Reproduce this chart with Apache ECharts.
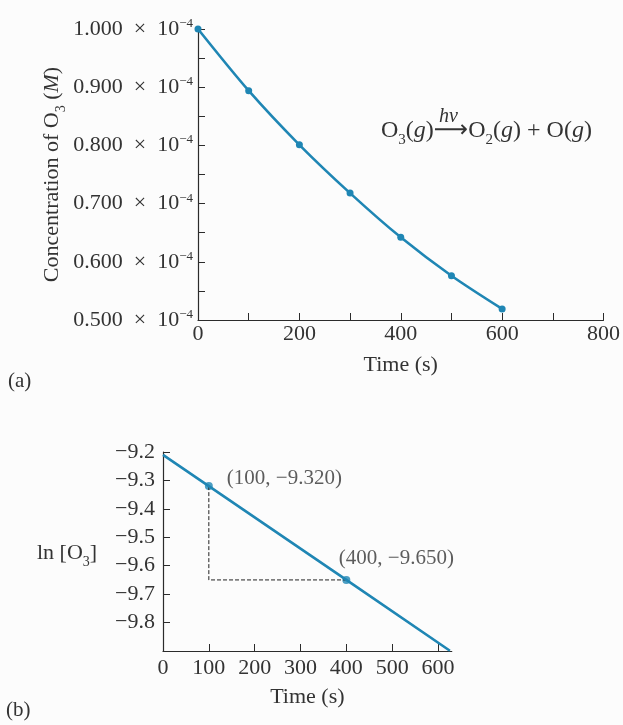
<!DOCTYPE html>
<html>
<head>
<meta charset="utf-8">
<script src="https://cdn.jsdelivr.net/npm/echarts@6/dist/echarts.min.js"></script>
<style>
  html, body { margin: 0; padding: 0; background: #fcfcfc; }
  #chart { width: 623px; height: 725px; }
</style>
</head>
<body>
<div id="chart"></div>
<script>
// ---------- data ----------
// (a) concentration of O3, in units of 10^-4 M
const timeA = [0, 100, 200, 300, 400, 500, 600];
const concA = [1.000, 0.894, 0.801, 0.718, 0.642, 0.576, 0.519];
// (b) ln[O3] vs time
const timeB = [0, 100, 400, 626];
const lnB = [-9.210, -9.320, -9.650, -9.899];
// highlighted points on (b)
const markTime = [100, 400];
const markLn = [-9.320, -9.650];
const markText = ['(100, \u22129.320)', '(400, \u22129.650)'];
// tick values
const ticksBx = [0, 100, 200, 300, 400, 500, 600];

const FONT = '"Liberation Serif", "DejaVu Serif", serif';
const TXT = '#333333';
const LINE = '#1f86b4';

const chart = echarts.init(document.getElementById('chart'), null, { renderer: 'canvas' });

function subRich(size, color) {
  return {
    m: { color: color, fill: color, fontFamily: FONT, fontSize: size, lineHeight: size + 4, verticalAlign: 'top' },
    i: { color: color, fill: color, fontFamily: FONT, fontSize: size, fontStyle: 'italic', lineHeight: size + 4, verticalAlign: 'top' },
    s: { color: color, fill: color, fontFamily: FONT, fontSize: Math.round(size * 0.64), lineHeight: size + 5, verticalAlign: 'bottom' },
    a: { color: color, fill: color, fontFamily: '"DejaVu Sans"', fontSize: size, lineHeight: size + 4, verticalAlign: 'top' }
  };
}

const axisCommon = {
  axisLine: { lineStyle: { color: '#2b2b2b', width: 1.2 } },
  axisTick: { inside: true, length: 7, lineStyle: { color: '#2b2b2b', width: 1 } },
  splitLine: { show: false }
};

const option = {
  backgroundColor: '#fcfcfc',
  animation: false,
  grid: [
    { left: 198, top: 29, width: 408, height: 291 },
    { left: 163, top: 452, width: 288.75, height: 199 }
  ],
  xAxis: [
    Object.assign({}, axisCommon, {
      gridIndex: 0, type: 'value', min: 0, max: 800, interval: 200,
      minorTick: { show: true, splitNumber: 2, length: 7, lineStyle: { color: '#2b2b2b', width: 1 } },
      axisLabel: { color: TXT, fontFamily: FONT, fontSize: 22, margin: 3 },
      name: 'Time (s)', nameLocation: 'middle', nameGap: 34,
      nameTextStyle: { color: TXT, fontFamily: FONT, fontSize: 22 }
    }),
    Object.assign({}, axisCommon, {
      gridIndex: 1, type: 'value', min: 0, max: 630, interval: 100,
      axisTick: { inside: true, length: 7, customValues: ticksBx, lineStyle: { color: '#2b2b2b', width: 1 } },
      axisLabel: { color: TXT, fontFamily: FONT, fontSize: 22, margin: 6, customValues: ticksBx },
      name: 'Time (s)', nameLocation: 'middle', nameGap: 35,
      nameTextStyle: { color: TXT, fontFamily: FONT, fontSize: 22 }
    })
  ],
  yAxis: [
    Object.assign({}, axisCommon, {
      gridIndex: 0, type: 'value', min: 0.5, max: 1.0, interval: 0.1,
      minorTick: { show: true, splitNumber: 2, length: 7, lineStyle: { color: '#2b2b2b', width: 1 } },
      axisLabel: {
        margin: 5,
        formatter: function (v) { return '{n|' + v.toFixed(3) + '\u2002\u00d7\u200210}{s|\u22124}'; },
        rich: {
          n: { color: TXT, fontFamily: FONT, fontSize: 22, lineHeight: 24 },
          s: { color: TXT, fontFamily: FONT, fontSize: 13, lineHeight: 13, verticalAlign: 'top' }
        }
      },
      name: '{m|Concentration of O}{s|3}{m| (}{i|M}{m|)}', nameLocation: 'middle', nameGap: 130, nameRotate: 90,
      nameMoveOverlap: false,
      nameTextStyle: { color: TXT, fontFamily: FONT, fontSize: 22, rich: subRich(22, TXT) }
    }),
    Object.assign({}, axisCommon, {
      gridIndex: 1, type: 'value', min: -9.9, max: -9.2, interval: 0.1,
      axisLabel: {
        color: TXT, fontFamily: FONT, fontSize: 22, margin: 8, showMinLabel: false,
        formatter: function (v) { return v.toFixed(1).replace('-', '\u2212'); }
      }
    })
  ],
  series: [
    {
      type: 'line', xAxisIndex: 0, yAxisIndex: 0,
      data: timeA.map((t, i) => [t, concA[i]]),
      smooth: 0.3, symbol: 'circle', symbolSize: 7,
      lineStyle: { color: LINE, width: 2.6 },
      itemStyle: { color: LINE }
    },
    {
      type: 'line', xAxisIndex: 1, yAxisIndex: 1,
      data: [[markTime[0], markLn[0]], [markTime[0], markLn[1]], [markTime[1], markLn[1]]],
      symbol: 'none',
      lineStyle: { color: '#222', width: 1, type: [4, 2] }
    },
    {
      type: 'line', xAxisIndex: 1, yAxisIndex: 1,
      data: timeB.map((t, i) => [t, lnB[i]]),
      symbol: 'none',
      lineStyle: { color: LINE, width: 2.6 }
    },
    {
      type: 'scatter', xAxisIndex: 1, yAxisIndex: 1,
      symbolSize: 8,
      itemStyle: { color: LINE },
      data: markTime.map((t, i) => ({
        value: [t, markLn[i]],
        label: i === 0
          ? { show: true, formatter: markText[i], position: 'right', distance: 5, offset: [9, -8] }
          : { show: true, formatter: markText[i], position: 'top', distance: 5, offset: [50, -2] }
      })),
      label: { color: TXT, fontFamily: FONT, fontSize: 21 }
    }
  ],
  graphic: [
    {
      type: 'text', left: 381, top: 119,
      style: {
        text: '{m|O}{s|3}{m|(}{i|g}{m|)}{a|\u27f6}{m|O}{s|2}{m|(}{i|g}{m|) + O(}{i|g}{m|)}',
        fill: TXT, fontFamily: FONT, fontSize: 24,
        rich: subRich(24, TXT)
      }
    },
    {
      type: 'text', left: 439, top: 107,
      style: { text: 'h\u03bd', fill: TXT, fontFamily: FONT, fontSize: 20, fontStyle: 'italic' }
    },
    {
      type: 'text', left: 37, top: 542,
      style: { text: '{m|ln [O}{s|3}{m|]}', fill: TXT, fontFamily: FONT, fontSize: 22, rich: subRich(22, TXT) }
    },
    { type: 'text', left: 8, top: 371, style: { text: '(a)', fill: TXT, fontFamily: FONT, fontSize: 21 } },
    { type: 'text', left: 6, top: 700, style: { text: '(b)', fill: TXT, fontFamily: FONT, fontSize: 21 } }
  ]
};

chart.setOption(option);
</script>
</body>
</html>
